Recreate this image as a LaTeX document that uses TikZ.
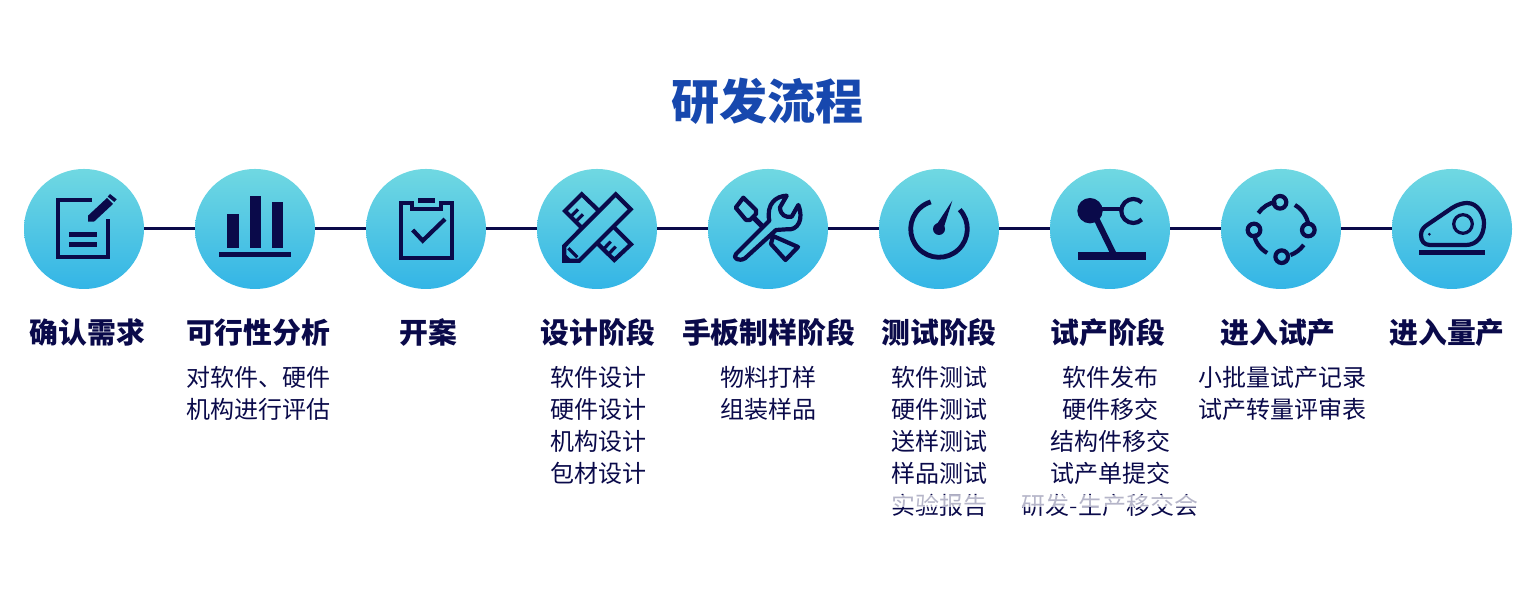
\documentclass[tikz,border=0pt]{standalone}
\usepackage{fontspec}
\setmainfont{Noto Sans CJK SC}
\usetikzlibrary{
arrows.meta,
positioning,
shapes
}
\definecolor{navy}{HTML}{0A0A4A}
\definecolor{titleblue}{HTML}{1748AE}
\definecolor{balltop}{HTML}{70D8E2}
\definecolor{ballbottom}{HTML}{33B5E6}
\definecolor{iconfill}{HTML}{55CAE3}
\tikzset{>=latex}

\begin{document}
\begin{tikzpicture}[x=0.5pt, y=0.5pt, font=\fontsize{12}{16}\selectfont, text=navy]
	\tikzset{stepball/.style={shape=circle,minimum size=60pt,inner sep=0pt,outer sep=0pt,top color=balltop,bottom color=ballbottom}}
	\tikzset{steptitle/.style={font=\fontsize{14.4}{16}\selectfont\bfseries,inner sep=0pt,text height=11pt,text depth=3pt,below=16pt of #1}}
	\tikzset{stepnote/.style={align=center,inner sep=0pt,below=8pt of #1}}
	\tikzset{link/.style={draw=navy,line width=1.5pt}}
	\tikzset{icon/.style={draw=navy,line width=2.1pt}}
	\tikzset{iconsolid/.style={fill=navy}}

	\useasboundingbox (0,0) rectangle (1536,592);

	\node[font=\fontsize{24}{28}\selectfont\bfseries,text=titleblue,inner sep=0pt] (title) at (767,491) {研发流程};

	\node[stepball] (needball) at (84,363) {};
	\node[stepball,right=25.5pt of needball] (studyball) {};
	\node[stepball,right=25.5pt of studyball] (openball) {};
	\node[stepball,right=25.5pt of openball] (designball) {};
	\node[stepball,right=25.5pt of designball] (sampleball) {};
	\node[stepball,right=25.5pt of sampleball] (testball) {};
	\node[stepball,right=25.5pt of testball] (trialball) {};
	\node[stepball,right=25.5pt of trialball] (enterball) {};
	\node[stepball,right=25.5pt of enterball] (massball) {};

	\draw[link] (needball) -- (studyball);
	\draw[link] (studyball) -- (openball);
	\draw[link] (openball) -- (designball);
	\draw[link] (designball) -- (sampleball);
	\draw[link] (sampleball) -- (testball);
	\draw[link] (testball) -- (trialball);
	\draw[link] (trialball) -- (enterball);
	\draw[link] (enterball) -- (massball);

	\node[steptitle=needball,xshift=1.75pt] (needtitle) {确认需求};
	\node[steptitle=studyball,xshift=1.5pt] (studytitle) {可行性分析};
	\node[steptitle=openball,xshift=1pt] (opentitle) {开案};
	\node[steptitle=designball,xshift=0.5pt] (designtitle) {设计阶段};
	\node[steptitle=sampleball,xshift=0.25pt] (sampletitle) {手板制样阶段};
	\node[steptitle=testball] (testtitle) {测试阶段};
	\node[steptitle=trialball,xshift=-1pt] (trialtitle) {试产阶段};
	\node[steptitle=enterball,xshift=-1.5pt] (entertitle) {进入试产};
	\node[steptitle=massball,xshift=-2.5pt] (masstitle) {进入量产};

	\node[stepnote=studytitle] (studynote) {对软件、硬件\\机构进行评估};
	\node[stepnote=designtitle] (designnote) {软件设计\\硬件设计\\机构设计\\包材设计};
	\node[stepnote=sampletitle] (samplenote) {物料打样\\组装样品};
	\node[stepnote=testtitle] (testnote) {软件测试\\硬件测试\\送样测试\\样品测试\\实验报告};
	\node[stepnote=trialtitle,xshift=1pt] (trialnote) {软件发布\\硬件移交\\结构件移交\\试产单提交\\研发-生产移交会};
	\node[stepnote=entertitle,xshift=2pt] (enternote) {小批量试产记录\\试产转量评审表};

	% faded last row
	\fill[white,opacity=0.7] (885,85) rectangle (1205,97);

	% document with pencil
	\begin{scope}[shift={(needball.center)}]
		\draw[icon] (7.7,29) -- (-25.7,29) -- (-25.7,-28.3) -- (24,-28.3) -- (24,9.7);
		\fill[iconsolid] (-14.7,-3.4) rectangle (13.3,-8);
		\fill[iconsolid] (-14.7,-13.4) rectangle (13.3,-18);
		\fill[iconsolid] (4,7.3) -- (4,13.3) -- (23,31) -- (29,25) -- (10,7.3) -- cycle;
		\fill[iconsolid] (26,35) -- (32.7,29.7) -- (30.3,27) -- (23.7,32.3) -- cycle;
	\end{scope}

	% bars
	\begin{scope}[shift={(studyball.center)}]
		\fill[iconsolid] (-27.7,14.7) rectangle (-16.3,-18.7);
		\fill[iconsolid] (-5.3,33) rectangle (6,-18.7);
		\fill[iconsolid] (17,27.3) rectangle (28.3,-18.7);
		\fill[iconsolid] (-35.7,-23) rectangle (36,-27.7);
	\end{scope}

	% clipboard
	\begin{scope}[shift={(openball.center)}]
		\draw[icon] (-14,26) -- (-14,19.7) -- (14.7,19.7) -- (14.7,26) -- (26.3,26) -- (26.3,-28.7) -- (-25.3,-28.7) -- (-25.3,26) -- cycle;
		\fill[iconsolid] (-8,31.3) rectangle (9.3,25.7);
		\draw[icon] (-13.3,-1) -- (-3.3,-11.7) -- (19,9.9);
	\end{scope}

	% ruler and pencil
	\begin{scope}[shift={(designball.center)}]
		\draw[icon] (2,18) -- (-15.3,34.7) -- (-32,18) -- (-14.7,0.7);
		\draw[icon] (17,1.7) -- (34,-15.3) -- (17.3,-31) -- (0.3,-14.3);
		\draw[icon,line width=1.6pt] (-26.3,12.3) -- (-19,19.7) (-21.3,7.3) -- (-14,14.7);
		\draw[icon,line width=1.6pt] (6.3,-20.3) -- (13.7,-12.7) (11.3,-25.3) -- (18.7,-17.7);
		\draw[icon] (18.7,34.7) -- (33.7,19.7) -- (-17.7,-31.7) -- (-32.7,-31.7) -- (-32.7,-17) -- cycle;
		\draw[icon,line width=1.6pt] (-28.7,-19.3) -- (-19.7,-28.3);
		\fill[iconsolid] (-32.7,-31.7) -- (-32.7,-24) -- (-25,-31.7) -- cycle;
	\end{scope}

	% wrench and screwdriver
	\begin{scope}[shift={(sampleball.center)}]
		\draw[icon,line join=round] (-24.7,31.3) -- (-12,19) -- (-12,15) -- (-18,9) -- (-22,9) -- (-32.3,21.3) -- cycle;
		\draw[icon,line width=2.6pt] (-15,12) -- (-1,-2);
		\draw[icon,line join=round] (5,-7) -- (30,-18) -- (17.5,-31) -- (3,-15) -- cycle;
		\draw[icon,fill=iconfill,line join=round] (-32,-25) -- (1.3,8.3) .. controls (-2,25) and (8,33) .. (18.7,33.3) -- (12,21.7) .. controls (12,14) and (18,11) .. (23.7,12.3) -- (30.3,24) .. controls (36,10) and (30,-2) .. (18.7,-0.3) -- (8,-1) -- (-23,-29.3) .. controls (-29,-33) and (-36,-29) .. (-32,-25) -- cycle;
	\end{scope}

	% gauge
	\begin{scope}[shift={(testball.center)}]
		\draw[icon,line width=2.4pt] (43:28.3) arc[start angle=43,end angle=-253,radius=28.3];
		\fill[iconsolid] (0,0) circle[radius=6];
		\fill[iconsolid] (13.3,28.3) -- (-4,2) -- (4,-1) -- cycle;
	\end{scope}

	% robot arm
	\begin{scope}[shift={(trialball.center)}]
		\fill[iconsolid] (-20,18.3) circle[radius=12.7];
		\draw[icon,line width=1.8pt] (-10,19.7) -- (11.7,19.7);
		\draw[icon] (23.3,18) ++(45:12) arc[start angle=45,end angle=315,radius=12];
		\draw[icon,line width=3pt] (-13,9) -- (3.3,-24.3);
		\fill[iconsolid] (-31.7,-23) rectangle (35.7,-31);
	\end{scope}

	% ring of nodes
	\begin{scope}[shift={(enterball.center)}]
		\draw[icon] (-1,26.7) circle[radius=6.3];
		\draw[icon] (27.3,-1) circle[radius=6.3];
		\draw[icon] (0.7,-27.7) circle[radius=6.3];
		\draw[icon] (-27,-1) circle[radius=6.3];
		\draw[icon] (100:27.7) arc[start angle=100,end angle=145,radius=27.7];
		\draw[icon] (60:27.7) arc[start angle=60,end angle=10,radius=27.7];
		\draw[icon] (-35:27.7) arc[start angle=-35,end angle=-70,radius=27.7];
		\draw[icon] (190:27.7) arc[start angle=190,end angle=240,radius=27.7];
	\end{scope}

	% meat machine
	\begin{scope}[shift={(massball.center)}]
		\fill[iconsolid] (-33,-21) rectangle (33,-26);
		\draw[icon,line join=round] (-31,-6) .. controls (-31,-1) and (-28,2) .. (-25,4) -- (0,21) .. controls (6,25) and (12,26) .. (15,26) .. controls (26,26) and (32,14) .. (32,6) .. controls (32,-8) and (24,-16) .. (14,-16) -- (-22,-16) .. controls (-28,-16) and (-31,-12) .. (-31,-6) -- cycle;
		\draw[icon,line width=1.6pt] (11,5) circle[radius=9.3];
		\fill[iconsolid] (-22.7,-5.3) circle[radius=1.5];
	\end{scope}
\end{tikzpicture}
\end{document}
